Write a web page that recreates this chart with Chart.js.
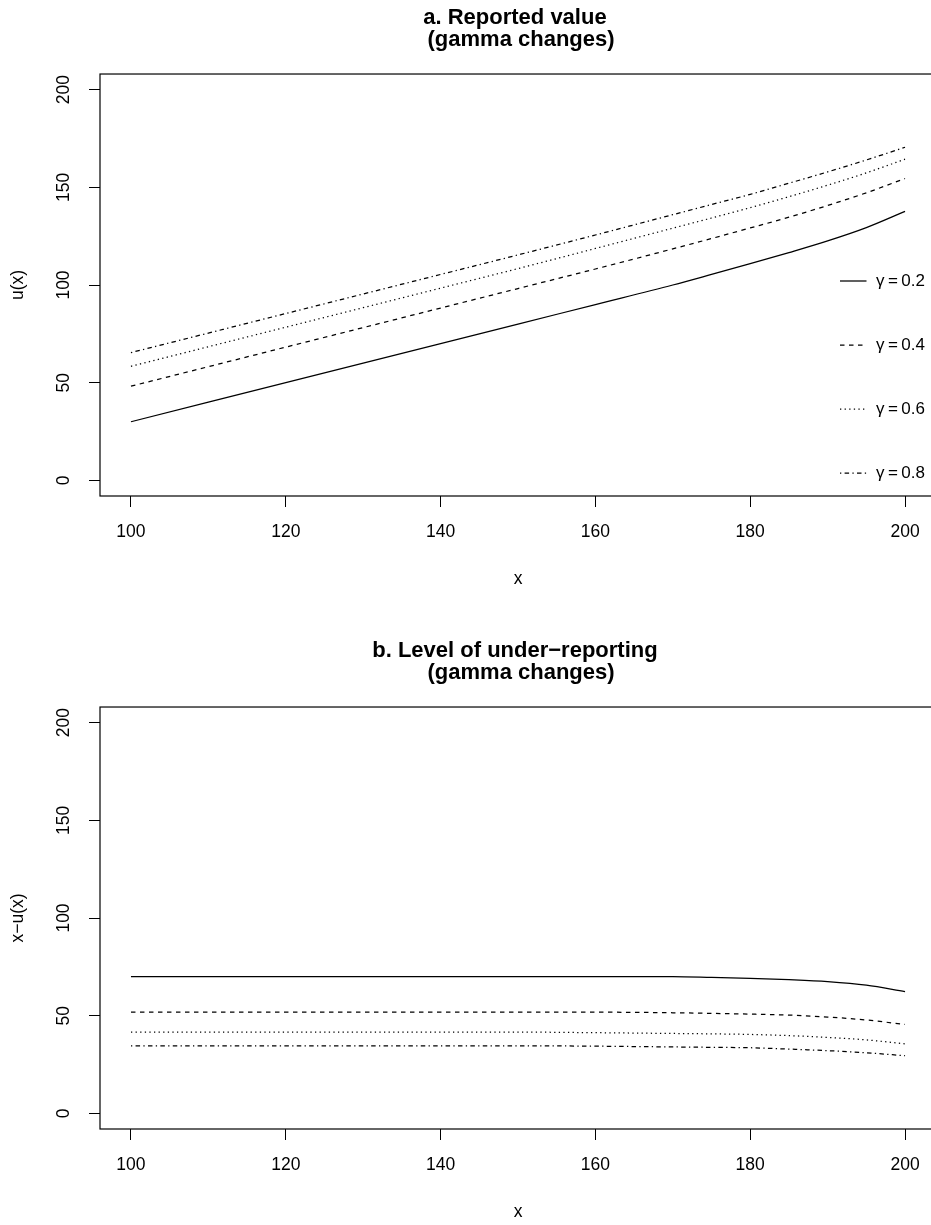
<!DOCTYPE html>
<html><head><meta charset="utf-8">
<script src="https://cdn.jsdelivr.net/npm/chart.js@4.4.1/dist/chart.umd.min.js"></script>
<style>
html,body{margin:0;padding:0;width:931px;height:1225px;overflow:hidden;background:#fff}
.p{position:absolute;left:0;width:960px;height:612px}
</style></head><body>
<div class="p" style="top:0"><canvas id="ca" width="960" height="612"></canvas></div>
<div class="p" style="top:633px"><canvas id="cb" width="960" height="612"></canvas></div>
<script>
// ---- data ----
const xValues = [100,110,120,130,140,150,160,170,175,180,185,190,195,200];

// panel a: reported value u(x)
const reportedG02 = [30,40,50,60,70,80,90,100,105.4,110.9,116.6,122.6,129.4,137.7];
const reportedG04 = [48.2,58.2,68.2,78.2,88.2,98.2,108.2,118.5,123.8,129.2,134.7,140.7,147.2,154.5];
const reportedG06 = [58.4,68.4,78.4,88.4,98.4,108.4,118.7,129.1,134.3,139.6,145.2,151.1,157.4,164.4];
const reportedG08 = [65.4,75.4,85.4,95.4,105.4,115.4,125.6,136.0,141.2,146.4,152.1,157.9,164.0,170.5];

// panel b: level of under-reporting x-u(x)
const underG02 = [70,70,70,70,70,70,70,70,69.6,69.1,68.4,67.4,65.6,62.3];
const underG04 = [51.8,51.8,51.8,51.8,51.8,51.8,51.8,51.5,51.2,50.8,50.3,49.3,47.8,45.5];
const underG06 = [41.6,41.6,41.6,41.6,41.6,41.6,41.3,40.9,40.7,40.4,39.8,38.9,37.6,35.6];
const underG08 = [34.6,34.6,34.6,34.6,34.6,34.6,34.4,34.0,33.8,33.6,32.9,32.1,31.0,29.5];

const seriesLabels = ['\u03b3\u2009=\u20090.2','\u03b3\u2009=\u20090.4','\u03b3\u2009=\u20090.6','\u03b3\u2009=\u20090.8'];
const xTicks = [100,120,140,160,180,200];
const yTicks = [0,50,100,150,200];
const titleA = ['a. Reported value ', ' (gamma changes)'];
const titleB = ['b. Level of under\u2212reporting ', ' (gamma changes)'];

// ---- styling ----
const FONT = '"Liberation Sans", Arial, Helvetica, sans-serif';
Chart.defaults.font.family = FONT;
Chart.defaults.color = '#000';
const dashes = [[], [4.5,4.5], [1.3,3.3], [1.3,3.3,4.5,3.3]];

const framePlugin = {
  id: 'frame',
  afterDatasetsDraw(chart) {
    const {ctx, chartArea: a} = chart;
    ctx.save();
    ctx.strokeStyle = '#000';
    ctx.lineWidth = 1.2;
    ctx.strokeRect(a.left, a.top, a.right - a.left, a.bottom - a.top);
    ctx.restore();
  }
};

const rLegendPlugin = {
  id: 'rLegend',
  afterDatasetsDraw(chart, args, opts) {
    if (!opts || !opts.show) return;
    const ctx = chart.ctx;
    ctx.save();
    chart.data.datasets.forEach((ds, i) => {
      const y = opts.top + i * opts.step;
      ctx.beginPath();
      ctx.setLineDash(ds.borderDash || []);
      ctx.lineWidth = ds.borderWidth;
      ctx.strokeStyle = ds.borderColor;
      ctx.moveTo(opts.lineX0, y);
      ctx.lineTo(opts.lineX1, y);
      ctx.stroke();
      ctx.setLineDash([]);
      ctx.fillStyle = '#000';
      ctx.font = '17px ' + FONT;
      ctx.textBaseline = 'middle';
      ctx.textAlign = 'left';
      ctx.fillText(ds.label, opts.textX, y);
    });
    ctx.restore();
  }
};

function makePanel(id, titleLines, yTitle, series, showLegend) {
  const datasets = series.map((arr, i) => ({
    label: seriesLabels[i],
    data: xValues.map((x, k) => ({x: x, y: arr[k]})),
    borderColor: '#000',
    borderWidth: 1.25,
    borderDash: dashes[i],
    pointRadius: 0,
    fill: false,
    cubicInterpolationMode: 'monotone'
  }));
  const axisCommon = {
    type: 'linear',
    grid: {drawOnChartArea: false, drawTicks: true, tickLength: 11, color: '#000', lineWidth: 1},
    border: {display: false}
  };
  return new Chart(document.getElementById(id), {
    type: 'line',
    data: {datasets},
    plugins: [framePlugin, rLegendPlugin],
    options: {
      responsive: false,
      animation: false,
      devicePixelRatio: 1,
      layout: {padding: {left: 0, right: 24, top: 0, bottom: 0}},
      plugins: {
        legend: {display: false},
        tooltip: {enabled: false},
        title: {
          display: true, text: titleLines, fullSize: false, color: '#000',
          font: {size: 22, weight: 'bold', lineHeight: 1.014},
          padding: {top: 6.8, bottom: 22.6}
        },
        rLegend: {show: showLegend, top: 281, step: 64, lineX0: 840, lineX1: 866.5, textX: 876}
      },
      scales: {
        x: Object.assign({}, axisCommon, {
          min: 96, max: 204,
          afterBuildTicks: s => { s.ticks = xTicks.map(v => ({value: v})); },
          afterFit: s => { s.height = 116; },
          ticks: {font: {size: 17.5}, color: '#000', padding: 15, maxRotation: 0, minRotation: 0, autoSkip: false},
          title: {display: true, text: 'x', font: {size: 17.5}, color: '#000', padding: {top: 0, bottom: 22}}
        }),
        y: Object.assign({}, axisCommon, {
          min: -8, max: 208,
          afterBuildTicks: s => { s.ticks = yTicks.map(v => ({value: v})); },
          afterFit: s => { s.width = 100; },
          ticks: {font: {size: 17.5}, color: '#000', padding: 10, minRotation: 90, maxRotation: 90, crossAlign: 'center', autoSkip: false},
          title: {display: true, text: yTitle, font: {size: 17.5}, color: '#000', padding: {top: 8, bottom: 0}}
        })
      }
    }
  });
}

makePanel('ca', titleA, 'u(x)', [reportedG02, reportedG04, reportedG06, reportedG08], true);
makePanel('cb', titleB, 'x\u2212u(x)', [underG02, underG04, underG06, underG08], false);
</script>
</body></html>
